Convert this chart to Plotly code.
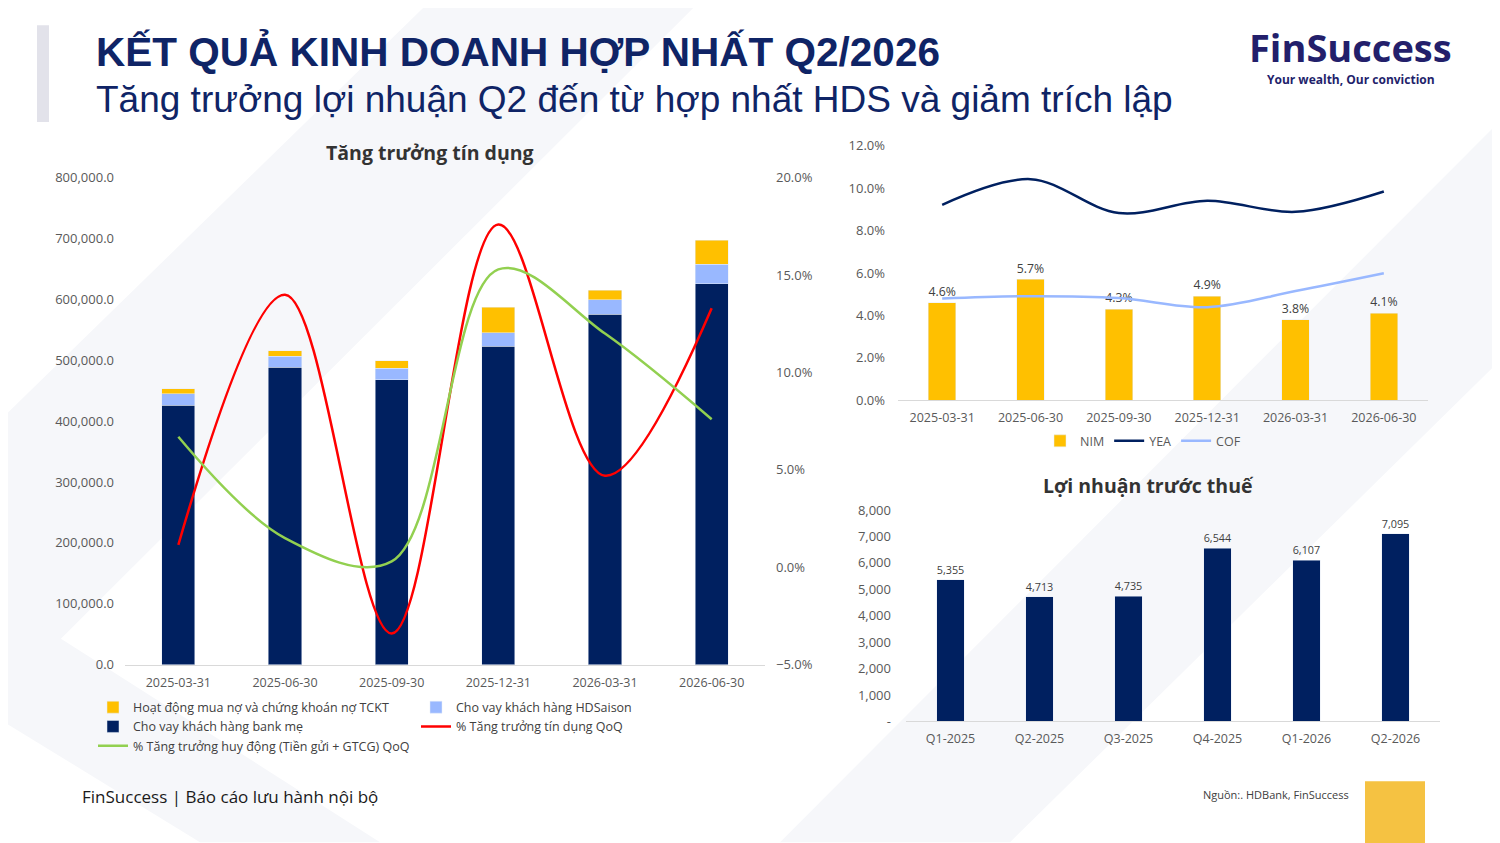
import plotly.graph_objects as go

W, H = 1500, 843

# Tăng trưởng tín dụng (left chart)
quarters = ['2025-03-31', '2025-06-30', '2025-09-30', '2025-12-31', '2026-03-31', '2026-06-30']
loan_parent = [426000, 489000, 468000, 523000, 576000, 626000]
loan_hdsaison = [19000, 18000, 19000, 22000, 24000, 32000]
debt_purchase = [8000, 9000, 12000, 42000, 15000, 39000]
credit_growth = [1.15, 14.0, -3.4, 17.6, 4.7, 13.3]
deposit_growth = [6.7, 1.5, 0.3, 15.3, 12.0, 7.6]

# NIM / YEA / COF (top right)
nim = [4.6, 5.7, 4.3, 4.9, 3.8, 4.1]
yea = [9.22, 10.43, 8.83, 9.41, 8.89, 9.85]
cof = [4.80, 4.91, 4.82, 4.39, 5.15, 5.99]

# Lợi nhuận trước thuế (bottom right)
pbt_quarters = ['Q1-2025', 'Q2-2025', 'Q3-2025', 'Q4-2025', 'Q1-2026', 'Q2-2026']
pbt = [5355, 4713, 4735, 6544, 6107, 7095]
pbt_tickvals = [0, 1000, 2000, 3000, 4000, 5000, 6000, 7000, 8000]
pbt_ticktext = ['-', '1,000', '2,000', '3,000', '4,000', '5,000', '6,000', '7,000', '8,000']

NAVY = '#002060'
LIGHT = '#99b8ff'
YELLOW = '#ffc000'
TITLE_C = '#0f2466'
FONT = 'Open Sans'
HEAD_FONT = 'Liberation Sans'

# the page shows the figure a little offset / squeezed, so positions are
# given in screen pixels and converted here
OX, OY, RH = 8, 15.8, 827.0


def px(x):
    return (x - OX) / W


def py(y):
    return 1 - (y - OY) / RH


fig = go.Figure()

# left chart: stacked bars + growth lines
fig.add_trace(go.Bar(x=quarters, y=loan_parent, name='Cho vay khách hàng bank mẹ',
                     marker_color=NAVY, legend='legend2', legendrank=2))
fig.add_trace(go.Bar(x=quarters, y=loan_hdsaison, name='Cho vay khách hàng HDSaison',
                     marker_color=LIGHT, legend='legend3', legendrank=1))
fig.add_trace(go.Bar(x=quarters, y=debt_purchase, name='Hoạt động mua nợ và chứng khoán nợ TCKT',
                     marker_color=YELLOW, legend='legend2', legendrank=1))
fig.add_trace(go.Scatter(x=quarters, y=credit_growth, yaxis='y2', mode='lines',
                         name='% Tăng trưởng tín dụng QoQ',
                         line=dict(color='#ff0000', width=2.5, shape='spline'),
                         legend='legend3', legendrank=2))
fig.add_trace(go.Scatter(x=quarters, y=deposit_growth, yaxis='y2', mode='lines',
                         name='% Tăng trưởng huy động (Tiền gửi + GTCG) QoQ',
                         line=dict(color='#92d050', width=2.5, shape='spline'),
                         legend='legend2', legendrank=3))

# top right: NIM / YEA / COF
fig.add_trace(go.Bar(x=quarters, y=nim, name='NIM', xaxis='x3', yaxis='y3',
                     marker_color=YELLOW, texttemplate='%{y:.1f}%',
                     textposition='outside', cliponaxis=False,
                     textfont=dict(size=12.5, color='#404040'), legendrank=1))
fig.add_trace(go.Scatter(x=quarters, y=yea, name='YEA', xaxis='x3', yaxis='y3', mode='lines',
                         line=dict(color=NAVY, width=2.5, shape='spline'), legendrank=2))
fig.add_trace(go.Scatter(x=quarters, y=cof, name='COF', xaxis='x3', yaxis='y3', mode='lines',
                         line=dict(color=LIGHT, width=2.5, shape='spline'), legendrank=3))

# bottom right: profit before tax
fig.add_trace(go.Bar(x=pbt_quarters, y=pbt, xaxis='x4', yaxis='y4', marker_color=NAVY,
                     texttemplate='%{y:,}', textposition='outside', cliponaxis=False,
                     textfont=dict(size=13.5, color='#404040'), showlegend=False))

tick_font = dict(size=13, color='#595959')
cat_font = dict(size=12.5, color='#595959')
axis_line = '#d9d9d9'

fig.update_layout(
    width=W, height=H, margin=dict(l=0, r=0, t=0, b=0),
    paper_bgcolor='white', plot_bgcolor='rgba(0,0,0,0)',
    font=dict(family=FONT, size=12, color='#595959'),
    barmode='stack', bargap=0.69,
    xaxis=dict(domain=[px(125), px(765)], anchor='y', type='category', showgrid=False,
               showline=True, linecolor=axis_line, tickfont=cat_font, ticks='',
               ticklabelstandoff=6),
    yaxis=dict(domain=[py(665), py(177)], anchor='x', range=[0, 800000], dtick=100000,
               tickformat=',.1f', showgrid=False, zeroline=False, tickfont=tick_font,
               ticklabelstandoff=10),
    yaxis2=dict(overlaying='y', anchor='x', side='right', range=[-5, 20], dtick=5,
                tickformat='.1f', ticksuffix='%', showgrid=False, zeroline=False,
                tickfont=tick_font, ticklabelstandoff=10),
    xaxis3=dict(domain=[px(898), px(1428)], anchor='y3', type='category', showgrid=False,
                showline=True, linecolor=axis_line, tickfont=cat_font, ticks='',
                ticklabelstandoff=6),
    yaxis3=dict(domain=[py(400), py(145)], anchor='x3', range=[0, 12], dtick=2,
                tickformat='.1f', ticksuffix='%', showgrid=False, zeroline=False,
                tickfont=tick_font, ticklabelstandoff=12),
    xaxis4=dict(domain=[px(906), px(1440)], anchor='y4', type='category', showgrid=False,
                showline=True, linecolor=axis_line, tickfont=cat_font, ticks='',
                ticklabelstandoff=6),
    yaxis4=dict(domain=[py(722), py(510)], anchor='x4', range=[0, 8000],
                tickvals=pbt_tickvals, ticktext=pbt_ticktext, showgrid=False,
                zeroline=False, tickfont=tick_font, ticklabelstandoff=14),
    legend=dict(orientation='h', x=px(1143), xanchor='center', y=py(426), yanchor='top',
                traceorder='normal', font=dict(size=12.5, color='#595959'),
                bgcolor='rgba(0,0,0,0)'),
    legend2=dict(x=px(93), xanchor='left', y=py(693), yanchor='top', traceorder='normal',
                 font=dict(size=12.5, color='#404040'), bgcolor='rgba(0,0,0,0)'),
    legend3=dict(x=px(416), xanchor='left', y=py(693), yanchor='top', traceorder='normal',
                 font=dict(size=12.5, color='#404040'), bgcolor='rgba(0,0,0,0)'),
)

# background bands and decorations
bg = '#f6f7fa'
shapes = [
    dict(type='path', path='M %f,%f L %f,%f L %f,%f L %f,%f Z' % (
        px(0), py(420), px(430), py(0), px(700), py(0), px(0), py(700)),
        xref='paper', yref='paper', fillcolor=bg, line_width=0, layer='below'),
    dict(type='path', path='M %f,%f L %f,%f L %f,%f L %f,%f Z' % (
        px(780), py(843), px(1500), py(120), px(1500), py(360), px(1010), py(843)),
        xref='paper', yref='paper', fillcolor=bg, line_width=0, layer='below'),
    dict(type='path', path='M %f,%f L %f,%f L %f,%f L %f,%f Z' % (
        px(0), py(600), px(380), py(843), px(200), py(843), px(0), py(720)),
        xref='paper', yref='paper', fillcolor=bg, line_width=0, layer='below'),
    dict(type='rect', xref='paper', yref='paper', x0=px(37), x1=px(49), y0=py(121), y1=py(24),
         fillcolor='#e2e2ea', line_width=0),
    dict(type='rect', xref='paper', yref='paper', x0=px(1365), x1=px(1425), y0=py(850), y1=py(782),
         fillcolor='#f5c242', line_width=0),
]

annotations = [
    dict(text='<b>KẾT QUẢ KINH DOANH HỢP NHẤT Q2/2026</b>', x=px(94), y=py(51),
         font=dict(family=HEAD_FONT, size=40.5, color=TITLE_C)),
    dict(text='Tăng trưởng lợi nhuận Q2 đến từ hợp nhất HDS và giảm trích lập', x=px(94), y=py(98),
         font=dict(family=HEAD_FONT, size=37, color=TITLE_C)),
    dict(text='<b>FinSuccess</b>', x=px(1350), y=py(46), xanchor='center',
         font=dict(family=FONT, size=38, color='#231f6b')),
    dict(text='<b>Your wealth, Our conviction</b>', x=px(1351), y=py(78), xanchor='center',
         font=dict(family=FONT, size=12, color='#231f6b')),
    dict(text='<b>Tăng trưởng tín dụng</b>', x=px(430), y=py(152), xanchor='center',
         font=dict(family=FONT, size=19.5, color='#333333')),
    dict(text='<b>Lợi nhuận trước thuế</b>', x=px(1148), y=py(485), xanchor='center',
         font=dict(family=FONT, size=19.5, color='#333333')),
    dict(text='FinSuccess | Báo cáo lưu hành nội bộ', x=px(80), y=py(797),
         font=dict(family=FONT, size=17, color='#1a1a1a')),
    dict(text='Nguồn:. HDBank, FinSuccess', x=px(1201), y=py(795),
         font=dict(family=FONT, size=11, color='#404040')),
]
for a in annotations:
    a.update(xref='paper', yref='paper', showarrow=False, yanchor='middle')
    a.setdefault('xanchor', 'left')

fig.update_layout(shapes=shapes, annotations=annotations)

fig.write_html("out.html")
